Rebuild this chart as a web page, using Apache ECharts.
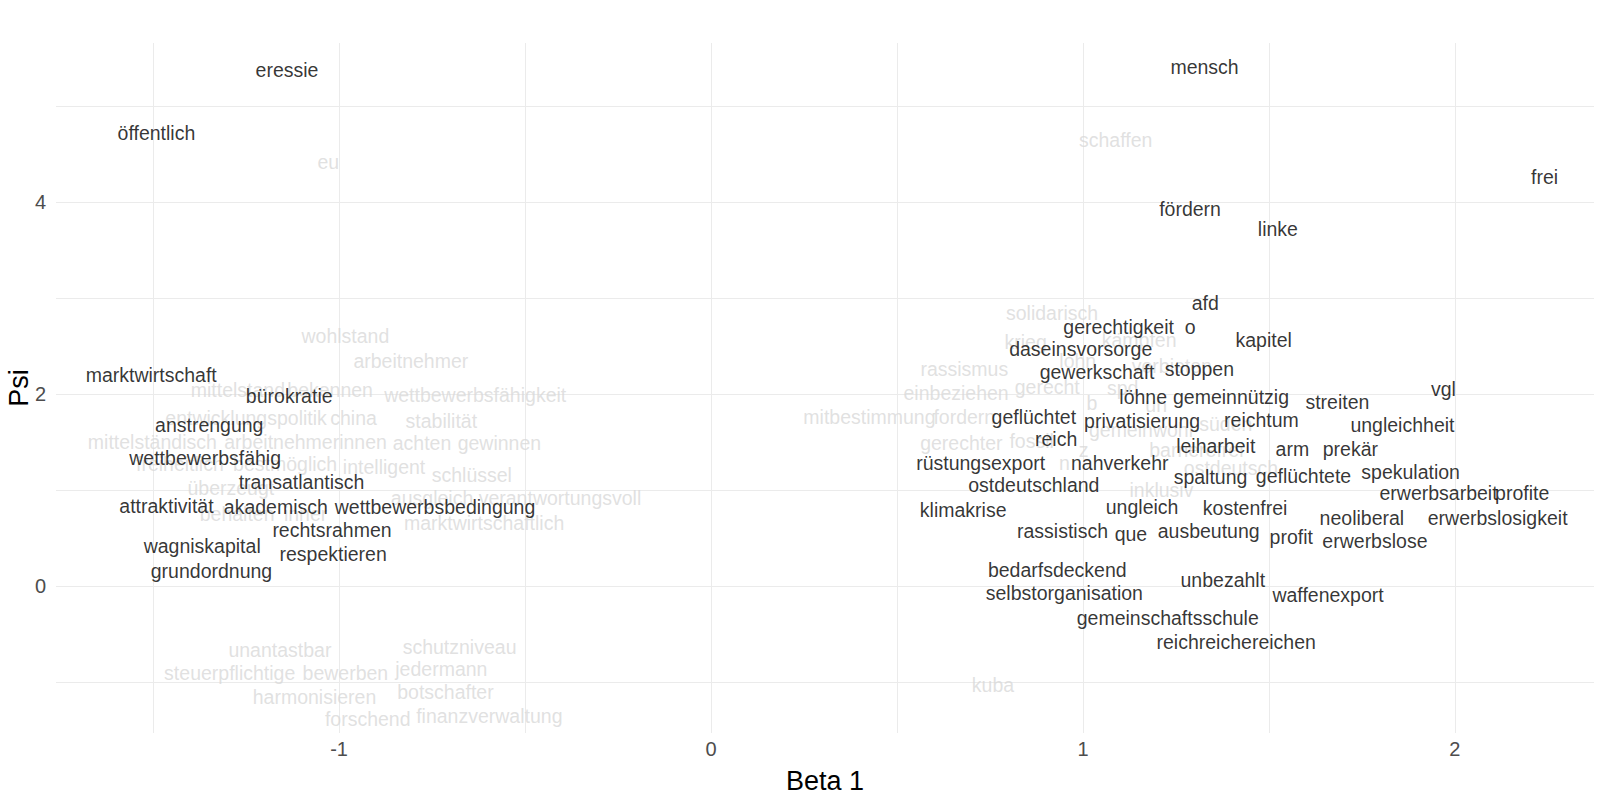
<!DOCTYPE html>
<html>
<head>
<meta charset="utf-8">
<script src="https://cdn.jsdelivr.net/npm/echarts@6/dist/echarts.min.js"></script>
<style>
  html, body { margin: 0; background: #fff; }
  #chart { width: 1600px; height: 800px; }
</style>
</head>
<body>
<div id="chart"></div>
<script>
// highlighted terms (black)
const topWords = ['eressie','mensch','öffentlich','frei','fördern','linke','afd','gerechtigkeit','o','kapitel',
  'daseinsvorsorge','gewerkschaft','stoppen','marktwirtschaft','bürokratie','löhne','gemeinnützig','streiten','vgl',
  'anstrengung','geflüchtet','privatisierung','reichtum','ungleichheit','wettbewerbsfähig','reich','leiharbeit','arm',
  'prekär','rüstungsexport','nahverkehr','transatlantisch','ostdeutschland','spaltung','geflüchtete','spekulation',
  'erwerbsarbeit','profite','attraktivität','akademisch','wettbewerbsbedingung','klimakrise','ungleich','kostenfrei',
  'neoliberal','erwerbslosigkeit','rechtsrahmen','rassistisch','que','ausbeutung','profit','erwerbslose','wagniskapital',
  'respektieren','grundordnung','bedarfsdeckend','unbezahlt','selbstorganisation','waffenexport','gemeinschaftsschule',
  'reichreichereichen'];
const topBeta = [-1.140,1.327,-1.491,2.241,1.288,1.524,1.329,1.096,1.288,1.486,
  0.994,1.038,1.313,-1.505,-1.134,1.162,1.398,1.684,1.969,
  -1.349,0.868,1.159,1.480,1.859,-1.360,0.928,1.357,1.563,
  1.719,0.725,1.099,-1.101,0.868,1.343,1.593,1.881,
  1.956,2.181,-1.464,-1.170,-0.742,0.678,1.159,1.436,
  1.750,2.115,-1.019,0.945,1.129,1.338,1.560,1.785,-1.368,
  -1.016,-1.343,0.931,1.376,0.950,1.659,1.228,
  1.412];
const topPsi = [5.383,5.415,4.723,4.266,3.926,3.723,2.947,2.702,2.702,2.564,
  2.468,2.234,2.266,2.202,1.979,1.968,1.968,1.915,2.053,
  1.681,1.766,1.723,1.734,1.681,1.340,1.532,1.457,1.426,
  1.426,1.287,1.287,1.085,1.053,1.138,1.149,1.191,
  0.968,0.968,0.840,0.830,0.830,0.798,0.830,0.819,
  0.713,0.713,0.585,0.574,0.543,0.574,0.511,0.468,0.415,
  0.340,0.160,0.170,0.064,-0.074,-0.096,-0.330,
  -0.585];

// background terms (light grey)
const backWords = ['eu','schaffen','solidarisch','wohlstand','arbeitnehmer','krieg','kämpfen','lohn','verbieten',
  'rassismus','einbeziehen','gerecht','spd','b','un','mitbestimmung','fordern','gemeinwohl','süden','gerechter',
  'fossil','z','n','barrierefrei','ostdeutsch','inklusiv','kuba','mittelstand','bekennen','wettbewerbsfähigkeit',
  'entwicklungspolitik','china','stabilität','mittelständisch','arbeitnehmerinnen','achten','gewinnen','freiheitlich',
  'bestmöglich','intelligent','schlüssel','überzeugt','ausgleich','verantwortungsvoll','behalten','inner',
  'marktwirtschaftlich','unantastbar','schutzniveau','steuerpflichtige','bewerben','jedermann','harmonisieren',
  'botschafter','forschend','finanzverwaltung'];
const backBeta = [-1.029,1.088,0.917,-0.983,-0.807,0.846,1.151,0.986,1.239,
  0.681,0.659,0.904,1.107,1.024,1.197,0.426,0.681,1.156,1.384,0.673,
  0.862,1.002,0.950,1.305,1.398,1.211,0.758,-1.272,-1.024,-0.634,
  -1.250,-0.961,-0.725,-1.502,-1.090,-0.777,-0.569,-1.428,
  -1.145,-0.879,-0.643,-1.291,-0.750,-0.406,-1.274,-1.090,
  -0.610,-1.159,-0.676,-1.294,-0.983,-0.725,-1.066,
  -0.714,-0.923,-0.596];
const backPsi = [4.418,4.649,2.851,2.606,2.351,2.543,2.564,2.351,2.298,
  2.266,2.011,2.074,2.064,1.904,1.883,1.766,1.766,1.628,1.691,1.489,
  1.511,1.415,1.287,1.415,1.234,1.000,-1.032,2.043,2.043,1.989,
  1.755,1.755,1.723,1.500,1.500,1.489,1.489,1.277,
  1.277,1.245,1.160,1.021,0.915,0.915,0.755,0.755,
  0.660,-0.670,-0.638,-0.904,-0.904,-0.862,-1.160,
  -1.106,-1.383,-1.351];

const xGrid = [-1.5, -1, -0.5, 0, 0.5, 1, 1.5, 2];
const xTicks = [-1, 0, 1, 2];
const yGrid = [-1, 0, 1, 2, 3, 4, 5];
const yTicks = [0, 2, 4];

const FONT = '"Liberation Sans", Arial, sans-serif';
const GRID_COLOR = '#ebebeb';

function words(list, xs, ys) {
  return list.map((w, i) => [xs[i], ys[i], w]);
}

function textSeries(data, color) {
  return {
    type: 'scatter',
    data: data,
    symbolSize: 1,
    itemStyle: { color: 'rgba(0,0,0,0)' },
    label: {
      show: true, position: 'inside',
      formatter: (p) => p.value[2],
      color: color, fontSize: 19.5, fontFamily: FONT,
    },
    emphasis: { disabled: true },
  };
}

const chart = echarts.init(document.getElementById('chart'), null, { renderer: 'svg' });
chart.setOption({
  animation: false,
  backgroundColor: '#ffffff',
  grid: { left: 56, right: 6, top: 43, bottom: 67, containLabel: false, outerBoundsMode: 'none' },
  xAxis: {
    type: 'value', min: -1.761, max: 2.374,
    name: 'Beta 1', nameLocation: 'middle', nameGap: 34,
    nameTextStyle: { color: '#000', fontSize: 27, fontFamily: FONT },
    axisLine: { show: false },
    axisTick: { show: false, customValues: xGrid },
    axisLabel: { customValues: xTicks, color: '#4d4d4d', fontSize: 20, fontFamily: FONT, margin: 6 },
    splitLine: { show: true, lineStyle: { color: GRID_COLOR, width: 1 } },
  },
  yAxis: {
    type: 'value', min: -1.53, max: 5.66,
    name: 'Psi', nameLocation: 'middle', nameGap: 24, nameMoveOverlap: false,
    nameTextStyle: { color: '#000', fontSize: 27, fontFamily: FONT },
    axisLine: { show: false },
    axisTick: { show: false, customValues: yGrid },
    axisLabel: { customValues: yTicks, color: '#4d4d4d', fontSize: 20, fontFamily: FONT, margin: 10 },
    splitLine: { show: true, lineStyle: { color: GRID_COLOR, width: 1 } },
  },
  series: [
    textSeries(words(backWords, backBeta, backPsi), '#d9d9d9'),
    textSeries(words(topWords, topBeta, topPsi), '#000000'),
  ],
});
</script>
</body>
</html>
